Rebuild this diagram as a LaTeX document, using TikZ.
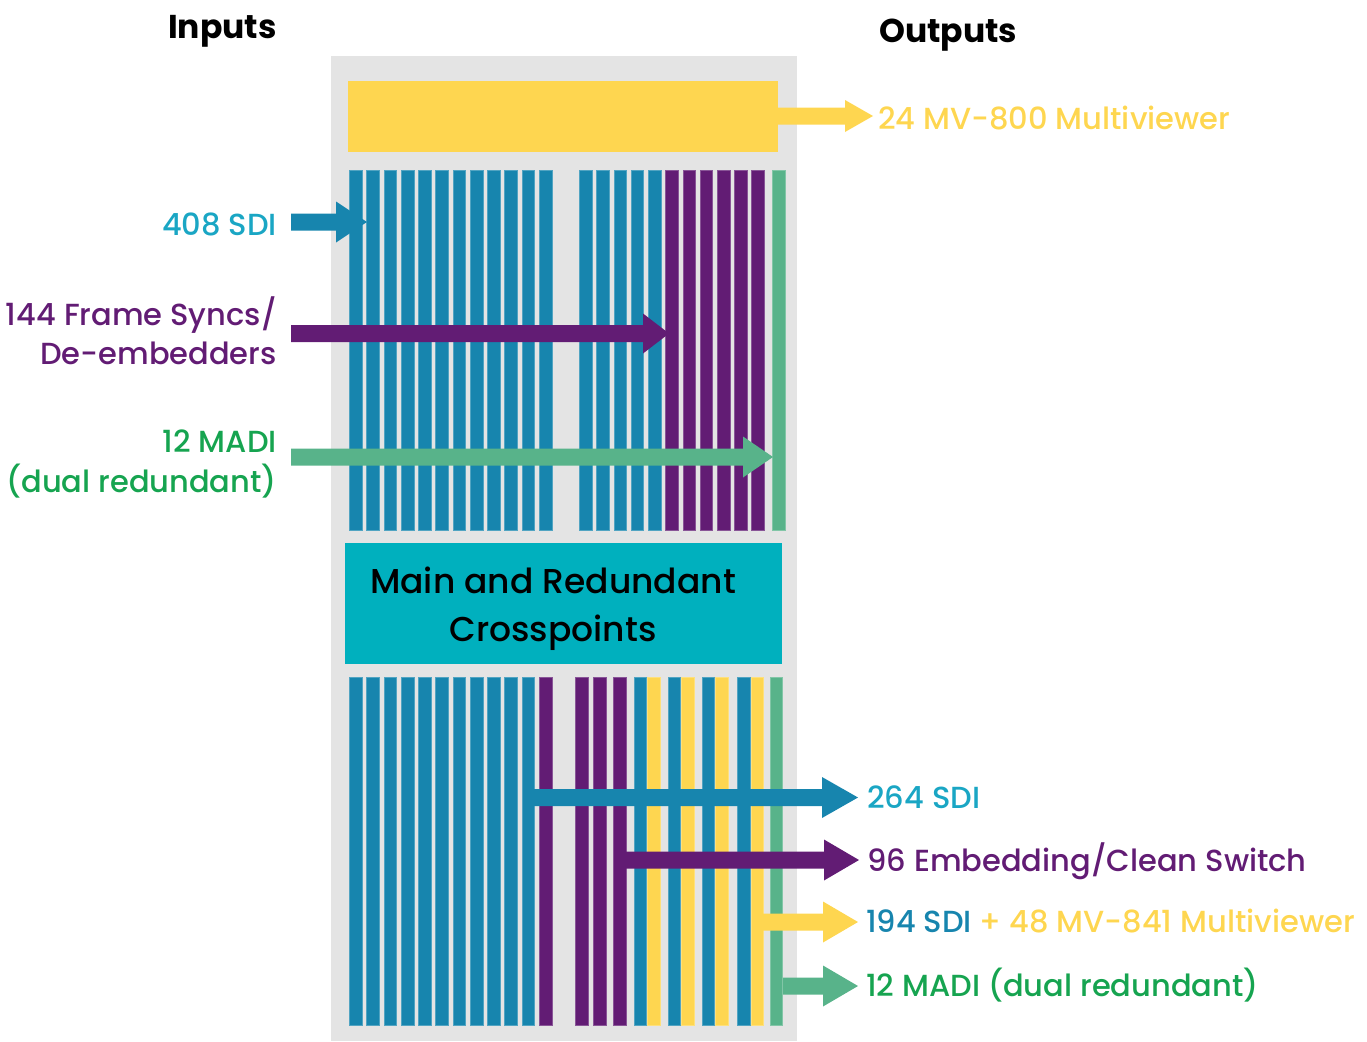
\documentclass[tikz,border=0pt]{standalone}
\usepackage{fontspec}
\setmainfont{Poppins}[UprightFont=* Medium, BoldFont=* Bold]
\usetikzlibrary{calc}

\definecolor{barblue}{RGB}{23,133,174}
\definecolor{barpurple}{RGB}{98,28,116}
\definecolor{bargreen}{RGB}{88,179,138}
\definecolor{baryellow}{RGB}{254,214,80}
\definecolor{framegray}{RGB}{228,228,228}
\definecolor{xpcyan}{RGB}{0,176,190}
\definecolor{txtteal}{RGB}{26,166,196}
\definecolor{txtgreen}{RGB}{22,164,80}

% fat arrow: colour, from, to, head length, head half width
\newcommand\fatarrow[5]{%
  \fill[#1] let \p1=(#2), \p2=(#3) in
    (\x1,\y1+8.5pt) -- (\x2-#4pt,\y1+8.5pt) -- (\x2-#4pt,\y1+#5pt) -- (\x2,\y1)
    -- (\x2-#4pt,\y1-#5pt) -- (\x2-#4pt,\y1-8.5pt) -- (\x1,\y1-8.5pt) -- cycle;}

\begin{document}
\begin{tikzpicture}[x=1pt, y=-1pt,
    colbar/.style={fill=#1, draw=#1!75!white, line width=0.5pt},
    lbl/.style={inner sep=0, font=\fontsize{30.5}{38}\selectfont},
    head/.style={inner sep=0, font=\fontsize{33}{40}\selectfont\bfseries}]
  \useasboundingbox (0,0) rectangle (1367,1041);

  % frame and blocks
  \fill[framegray] (331,56) rectangle (797,1041);
  \fill[baryellow] (348,81) rectangle (778,152);
  \fill[xpcyan] (345,543) rectangle (782,664);
  \node[inner sep=0, align=center, font=\fontsize{34.5}{48}\selectfont] (xp) at (553,609)
    {Main and Redundant\\Crosspoints};

  % input side bars
  \foreach \i in {0,...,11}
    \filldraw[colbar=barblue] ({349.3+17.27*\i},170) rectangle ++(12.7,360);
  \foreach \i in {0,...,4}
    \filldraw[colbar=barblue] ({579.3+17.24*\i},170) rectangle ++(12.7,360);
  \foreach \i in {5,...,10}
    \filldraw[colbar=barpurple] ({579.3+17.24*\i},170) rectangle ++(12.7,360);
  \filldraw[colbar=bargreen] (772.7,170) rectangle ++(12.6,360);

  % output side bars
  \foreach \i in {0,...,10}
    \filldraw[colbar=barblue] ({349.3+17.27*\i},677) rectangle ++(12.7,348);
  \filldraw[colbar=barpurple] (539.3,677) rectangle ++(12.7,348);
  \foreach \x in {575.3,593.7,613.3}
    \filldraw[colbar=barpurple] (\x,677) rectangle ++(12.6,348);
  \foreach \x in {634,668,702,737.3}
    \filldraw[colbar=barblue] (\x,677) rectangle ++(12.6,348);
  \foreach \x in {647.3,681.6,715.3,751}
    \filldraw[colbar=baryellow] (\x,677) rectangle ++(12.6,348);
  \filldraw[colbar=bargreen] (770,677) rectangle ++(12.6,348);

  % headings
  \node[head, anchor=base west] (inputs) at (168,38) {Inputs};
  \node[head, anchor=base west] (outputs) at (879,43) {Outputs};

  % input labels
  \node[lbl, anchor=base east, text=txtteal] (sdiin) at (277,235) {408 SDI};
  \node[lbl, anchor=base east, text=barpurple] (fsin1) at (277,325) {144 Frame Syncs/};
  \node[lbl, anchor=base east, text=barpurple] (fsin2) at (277,364) {De-embedders};
  \node[lbl, anchor=base east, text=txtgreen] (madiin1) at (277,452) {12 MADI};
  \node[lbl, anchor=base east, text=txtgreen] (madiin2) at (277,492) {(dual redundant)};

  % output labels
  \node[lbl, anchor=base west, text=baryellow] (mvout) at (878,129) {24 MV-800 Multiviewer};
  \node[lbl, anchor=base west, text=txtteal] (sdiout) at (867,808) {264 SDI};
  \node[lbl, anchor=base west, text=barpurple] (embout) at (867,871) {96 Embedding/Clean Switch};
  \node[lbl, anchor=base west] (sdimvout) at (866,932)
    {\color{barblue}194 SDI \color{baryellow}+ 48 MV-841 Multiviewer};
  \node[lbl, anchor=base west, text=txtgreen] (madiout) at (866,996) {12 MADI (dual redundant)};

  % arrow ends
  \coordinate (sdiin-a) at (291,222);     \coordinate (sdiin-b) at (367,222);
  \coordinate (fsin-a) at (291,333.5);    \coordinate (fsin-b) at (669,333.5);
  \coordinate (madiin-a) at (291,457);    \coordinate (madiin-b) at (773,457);
  \coordinate (mvout-a) at (778,116);     \coordinate (mvout-b) at (873,116);
  \coordinate (sdiout-a) at (523,797.5);  \coordinate (sdiout-b) at (858,797.5);
  \coordinate (embout-a) at (626,860);    \coordinate (embout-b) at (859,860);
  \coordinate (sdimv-a) at (763,922);     \coordinate (sdimv-b) at (858,922);
  \coordinate (madiout-a) at (783,986);   \coordinate (madiout-b) at (858,986);

  \fatarrow{barblue}{sdiin-a}{sdiin-b}{31}{20.5}
  \fatarrow{barpurple}{fsin-a}{fsin-b}{26}{20}
  \fatarrow{bargreen}{madiin-a}{madiin-b}{30}{20.5}
  \fatarrow{baryellow}{mvout-a}{mvout-b}{28}{16}
  \fatarrow{barblue}{sdiout-a}{sdiout-b}{36}{20.5}
  \fatarrow{barpurple}{embout-a}{embout-b}{35}{20.5}
  \fatarrow{baryellow}{sdimv-a}{sdimv-b}{35}{20.5}
  \fatarrow{bargreen}{madiout-a}{madiout-b}{35}{20.5}
\end{tikzpicture}
\end{document}
